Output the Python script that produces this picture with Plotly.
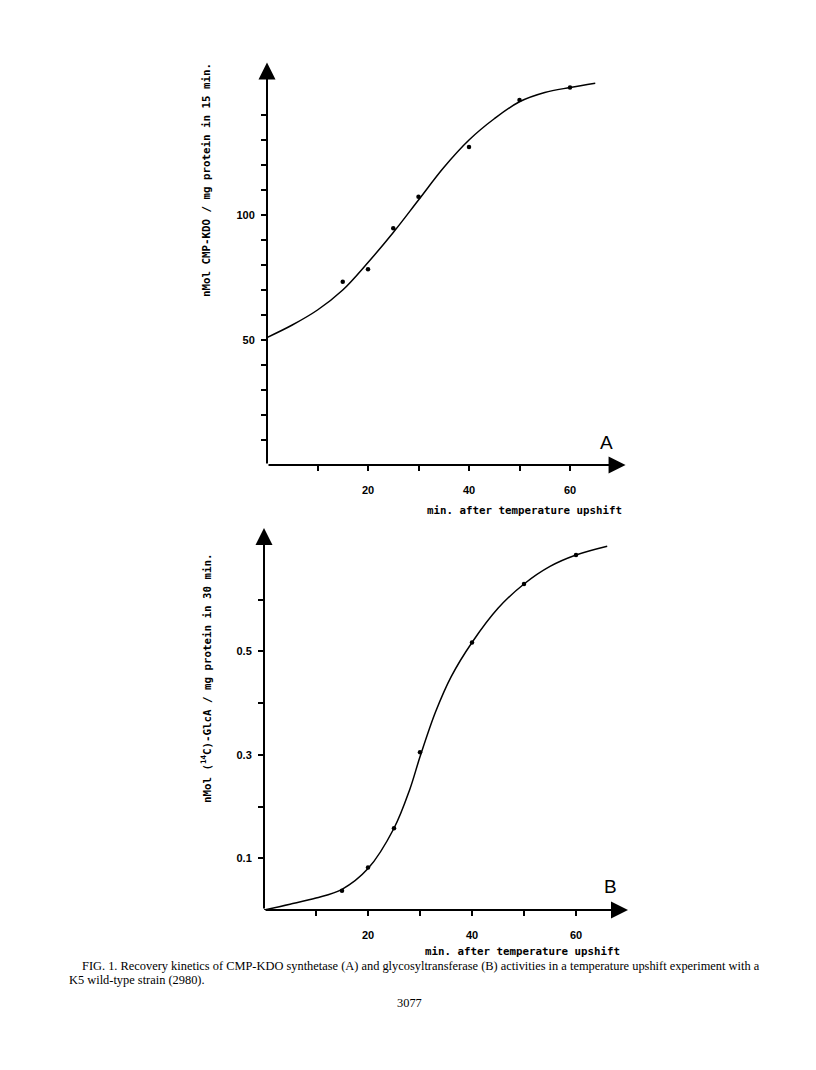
import plotly.graph_objects as go

# page is offset by the browser's default 8px body margin
OFF = 8
W, H = 816 - 2 * OFF, 1070 - 2 * OFF

# ---------------- data ----------------
# Panel A: CMP-KDO synthetase
a_time = [15, 20, 25, 30, 40, 50, 60]
a_activity = [73.3, 78.3, 94.7, 107.3, 127.2, 146, 151]
a_curve_time = [0, 5, 10, 15, 20, 25, 30, 35, 40, 45, 50, 55, 60, 65]
a_curve_activity = [51, 56, 62, 70, 81, 93, 106, 119, 130, 138.5, 145.3, 149, 151, 152.7]
a_ytick_vals = [10, 20, 30, 40, 50, 60, 70, 80, 90, 100, 110, 120, 130, 140]
a_ytick_text = ["", "", "", "", "50", "", "", "", "", "100", "", "", "", ""]

# Panel B: glycosyltransferase
b_time = [15, 20, 25, 30, 40, 50, 60]
b_activity = [0.037, 0.082, 0.158, 0.305, 0.517, 0.630, 0.686]
b_curve_time = [0, 5, 10, 15, 20, 25, 28, 30, 33, 36, 40, 45, 50, 55, 60, 66]
b_curve_activity = [0.0, 0.011, 0.023, 0.04, 0.08, 0.158, 0.232, 0.296, 0.383, 0.451,
                    0.517, 0.583, 0.630, 0.664, 0.686, 0.703]
b_ytick_vals = [0.1, 0.2, 0.3, 0.4, 0.5, 0.6]
b_ytick_text = ["0.1", "", "0.3", "", "0.5", ""]

xtick_vals = [10, 20, 30, 40, 50, 60]
xtick_text = ["", "20", "", "40", "", "60"]

x_title = "min. after temperature upshift"
a_y_title = "nMol CMP-KDO / mg protein in 15 min."
b_y_title = "nMol (<sup>14</sup>C)-GlcA / mg protein in 30 min."
caption_1 = ("FIG. 1. Recovery kinetics of CMP-KDO synthetase (A) and glycosyltransferase (B) "
             "activities in a temperature upshift experiment with a")
caption_2 = "K5 wild-type strain (2980)."
page_no = "3077"

A_XMAX, A_YMAX = 71, 161
B_XMAX, B_YMAX = 70, 0.738


def fx(px):
    return (px - OFF) / W


def fy(py):
    return 1 - (py - OFF) / H


fig = go.Figure()

# Panel A
fig.add_trace(go.Scatter(x=a_curve_time, y=a_curve_activity, mode="lines",
                         line=dict(color="black", width=1.5, shape="spline", smoothing=1.0),
                         xaxis="x", yaxis="y", cliponaxis=False, hoverinfo="skip"))
fig.add_trace(go.Scatter(x=a_time, y=a_activity, mode="markers",
                         marker=dict(color="black", size=4.5),
                         xaxis="x", yaxis="y", cliponaxis=False))
# Panel B
fig.add_trace(go.Scatter(x=b_curve_time, y=b_curve_activity, mode="lines",
                         line=dict(color="black", width=1.5, shape="spline", smoothing=1.0),
                         xaxis="x2", yaxis="y2", cliponaxis=False, hoverinfo="skip"))
fig.add_trace(go.Scatter(x=b_time, y=b_activity, mode="markers",
                         marker=dict(color="black", size=4.5),
                         xaxis="x2", yaxis="y2", cliponaxis=False))

tickfont = dict(family="Liberation Sans", size=11, color="black", weight="bold")
common_x = dict(showgrid=False, zeroline=False, showline=False, ticks="outside",
                ticklen=5, tickwidth=1.5, tickcolor="black", tickvals=xtick_vals,
                ticktext=xtick_text, tickfont=tickfont, ticklabelstandoff=10)
common_y = dict(showgrid=False, zeroline=False, showline=False, ticks="outside",
                ticklen=5, tickwidth=1.5, tickcolor="black", tickfont=tickfont,
                ticklabelstandoff=4)

layout = dict(
    width=W, height=H, margin=dict(l=0, r=0, t=0, b=0),
    paper_bgcolor="white", plot_bgcolor="white", showlegend=False,
    xaxis=dict(domain=[fx(267), fx(267 + A_XMAX * 5.05)], range=[0, A_XMAX], anchor="y", **common_x),
    yaxis=dict(domain=[fy(465), fy(465 - A_YMAX * 2.5)], range=[0, A_YMAX], anchor="x",
               tickvals=a_ytick_vals, ticktext=a_ytick_text, **common_y),
    xaxis2=dict(domain=[fx(264), fx(264 + B_XMAX * 5.2)], range=[0, B_XMAX], anchor="y2", **common_x),
    yaxis2=dict(domain=[fy(910), fy(910 - B_YMAX * 517.5)], range=[0, B_YMAX], anchor="x2",
                tickvals=b_ytick_vals, ticktext=b_ytick_text, **common_y),
)
fig.update_layout(**layout)

# axis lines with arrowheads
arrow = dict(text="", showarrow=True, arrowhead=2, arrowsize=1.7, arrowwidth=2,
             arrowcolor="black", standoff=0, startstandoff=0)
for xr, yr, xmax, ymax in [("x", "y", A_XMAX, A_YMAX), ("x2", "y2", B_XMAX, B_YMAX)]:
    fig.add_annotation(x=xmax, y=0, ax=0, ay=0, xref=xr, yref=yr, axref=xr, ayref=yr, **arrow)
    fig.add_annotation(x=0, y=ymax, ax=0, ay=0, xref=xr, yref=yr, axref=xr, ayref=yr, **arrow)

mono = dict(family="DejaVu Sans Mono", size=10.8, color="black")
# axis titles
fig.add_annotation(x=fx(524), y=fy(510), xref="paper", yref="paper", text=f"<b>{x_title}</b>",
                   showarrow=False, font=mono, xanchor="center", yanchor="middle")
fig.add_annotation(x=fx(522), y=fy(951), xref="paper", yref="paper", text=f"<b>{x_title}</b>",
                   showarrow=False, font=mono, xanchor="center", yanchor="middle")
fig.add_annotation(x=fx(206), y=fy(180), xref="paper", yref="paper", text=f"<b>{a_y_title}</b>",
                   showarrow=False, font=mono, textangle=-90, xanchor="center", yanchor="middle")
fig.add_annotation(x=fx(206), y=fy(678), xref="paper", yref="paper", text=f"<b>{b_y_title}</b>",
                   showarrow=False, font=mono, textangle=-90, xanchor="center", yanchor="middle")

# panel letters
letter = dict(family="Liberation Sans", size=19, color="black")
fig.add_annotation(x=fx(606), y=fy(442), xref="paper", yref="paper", text="A",
                   showarrow=False, font=letter, xanchor="center", yanchor="middle")
fig.add_annotation(x=fx(610), y=fy(886), xref="paper", yref="paper", text="B",
                   showarrow=False, font=letter, xanchor="center", yanchor="middle")

# caption
serif = dict(family="Liberation Serif", size=12.4, color="black")
fig.add_annotation(x=fx(80), y=fy(966), xref="paper", yref="paper", text=caption_1,
                   showarrow=False, font=serif, xanchor="left", yanchor="middle")
fig.add_annotation(x=fx(67), y=fy(980), xref="paper", yref="paper", text=caption_2,
                   showarrow=False, font=serif, xanchor="left", yanchor="middle")
fig.add_annotation(x=fx(410), y=fy(1003), xref="paper", yref="paper", text=page_no,
                   showarrow=False, font=serif, xanchor="center", yanchor="middle")

fig.write_html("out.html")
